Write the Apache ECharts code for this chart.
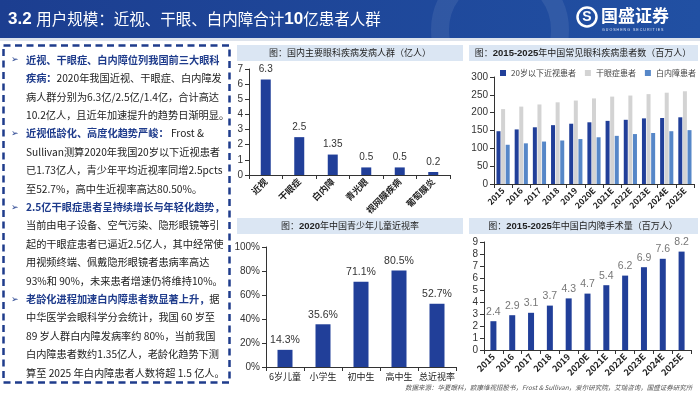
<!DOCTYPE html>
<html><head><meta charset="utf-8">
<script src="https://cdn.jsdelivr.net/npm/echarts@6/dist/echarts.min.js"></script>
<style>html,body{margin:0;padding:0;background:#fff}#c{width:700px;height:394px}</style>
</head><body><div id="c"></div>
<script>
// ---- data ----
const diseaseCats = ['近视','干眼症','白内障','青光眼','视网膜疾病','葡萄膜炎'];
const diseaseVals = [6.3, 2.5, 1.35, 0.5, 0.5, 0.2];
const years = ['2015','2016','2017','2018','2019','2020E','2021E','2022E','2023E','2024E','2025E'];
const myopiaU20 = [148,153,159,165,169,173,177,180,184,185,187];
const dryEye    = [210,217,223,229,234,240,245,248,252,256,260];
const cataract  = [110,114,119,122,126,131,135,140,143,148,151];
const youthCats = ['6岁儿童','小学生','初中生','高中生','总近视率'];
const youthRate = [14.3, 35.6, 71.1, 80.5, 52.7];
const surgery   = [2.4,2.9,3.1,3.7,4.3,4.7,5.4,6.2,6.9,7.6,8.2];
const seriesNames = ['20岁以下近视患者','干眼症患者','白内障患者'];

const NAVY = '#213f99', GRAY = '#d3d3d3', LBLUE = '#5687c8';
const CJK = '"Noto Sans CJK SC", sans-serif';
const NUM = '"Liberation Sans", "Noto Sans", sans-serif';

const chart = echarts.init(document.getElementById('c'), null, {renderer:'canvas'});

function yAx(gi, min, max, interval, fmt){
  return {type:'value', gridIndex:gi, min:min, max:max, interval:interval,
    axisLine:{show:true, lineStyle:{color:'#333', width:1}},
    axisTick:{show:true, length:4, lineStyle:{color:'#333'}},
    splitLine:{show:false},
    axisLabel:{color:'#333', fontSize:10, fontFamily:NUM, margin:6, formatter:fmt||'{value}'}};
}
function xAx(gi, data, rotate, fs, bold){
  return {type:'category', gridIndex:gi, data:data,
    axisLine:{show:true, lineStyle:{color:'#333', width:1}},
    axisTick:{show:true, length:4, alignWithLabel:false, lineStyle:{color:'#333'}},
    axisLabel:{interval:0, rotate:rotate, color:'#222', fontSize:fs, fontWeight:bold?'bold':'normal',
      fontFamily:CJK, margin:5}};
}

// ---- left text ----
const textLines = [
  [true,  '{b|近视、干眼症、白内障位列我国前三大眼科}'],
  [false, '{b|疾病：}{n|2020年我国近视、干眼症、白内障发}'],
  [false, '{n|病人群分别为6.3亿/2.5亿/1.4亿，合计高达}'],
  [false, '{n|10.2亿人，且近年加速提升的趋势日渐明显。}'],
  [true,  '{b|近视低龄化、高度化趋势严峻：}{n| Frost &}'],
  [false, '{n|Sullivan测算2020年我国20岁以下近视患者}'],
  [false, '{n|已1.73亿人，青少年平均近视率同增2.5pcts}'],
  [false, '{n|至52.7%，高中生近视率高达80.50%。}'],
  [true,  '{b|2.5亿干眼症患者呈持续增长与年轻化趋势，}'],
  [false, '{n|当前由电子设备、空气污染、隐形眼镜等引}'],
  [false, '{n|起的干眼症患者已逼近2.5亿人，其中经常使}'],
  [false, '{n|用视频终端、佩戴隐形眼镜者患病率高达}'],
  [false, '{n|93%和 90%，未来患者增速仍将维持10%。}'],
  [true,  '{b|老龄化进程加速白内障患者数显著上升，}{n|据}'],
  [false, '{n|中华医学会眼科学分会统计，我国 60 岁至}'],
  [false, '{n|89 岁人群白内障发病率约 80%，当前我国}'],
  [false, '{n|白内障患者数约1.35亿人，老龄化趋势下测}'],
  [false, '{n|算至 2025 年白内障患者人数将超 1.5 亿人。}']
];
const rich = {
  b:{fontSize:10.2, fontFamily:CJK, fontWeight:'bold', fill:'#1f3c8c'},
  n:{fontSize:10.2, fontFamily:CJK, fill:'#222'}
};
const graphics = [];
// header
graphics.push({type:'rect', shape:{x:0,y:0,width:700,height:38}, silent:true,
  style:{fill:new echarts.graphic.LinearGradient(0,0,1,0,[{offset:0,color:'#1c3e90'},{offset:1,color:'#2150a3'}])}});
graphics.push({type:'circle', shape:{cx:500,cy:30,r:60}, silent:true,
  style:{fill:'none', stroke:'rgba(255,255,255,0.08)', lineWidth:18}});
graphics.push({type:'rect', shape:{x:0,y:38,width:700,height:3}, silent:true, style:{fill:'#dde3ec'}});
graphics.push({type:'text', x:8, y:19, silent:true, style:{
  text:'{a|3.2 }{c|用户规模：近视、干眼、白内障合计}{a|10}{c|亿患者人群}',
  verticalAlign:'middle',
  rich:{a:{fontSize:17, fontWeight:'bold', fontFamily:NUM, fill:'#fff'},
        c:{fontSize:15.5, fontFamily:CJK, fill:'#fff'}}}});
// logo
graphics.push({type:'circle', shape:{cx:587,cy:17,r:9.5}, silent:true, style:{fill:'none', stroke:'#fff', lineWidth:2.5}});
graphics.push({type:'text', x:587, y:17.5, silent:true, style:{text:'S', fontSize:14, fontWeight:'bold', fontFamily:NUM, fill:'#fff', align:'center', verticalAlign:'middle'}});
graphics.push({type:'text', x:601, y:16, silent:true, style:{text:'国盛证券', fontSize:17, fontWeight:'bold', fontFamily:CJK, fill:'#fff', verticalAlign:'middle'}});
graphics.push({type:'text', x:602, y:30, silent:true, style:{text:'G U O S H E N G   S E C U R I T I E S', fontSize:3.6, fontFamily:NUM, fill:'#dfe6f5', verticalAlign:'middle'}});
// left dashed box
graphics.push({type:'rect', shape:{x:3.5,y:45.5,width:226,height:337}, silent:true,
  style:{fill:'none', stroke:'#1f3c8c', lineWidth:2.5, lineDash:[7,4.5]}});
textLines.forEach((ln, i) => {
  const y = 60 + i * 18.4;
  if (ln[0]) graphics.push({type:'text', x:11, y:y, silent:true, style:{text:'➢', fontSize:9, fontFamily:'"DejaVu Sans"', fill:'#1f3c8c', verticalAlign:'middle'}});
  graphics.push({type:'text', x:26, y:y, silent:true, style:{text:ln[1], rich:rich, verticalAlign:'middle'}});
});
// panel title bands
const bands = [
  [237, 45, 226, 16, 350, '{n|图：国内主要眼科疾病发病人群（亿人）}'],
  [469, 45, 229, 16, 583, '{n|图：}{b|2015-2025}{n|年中国常见眼科疾病患者数（百万人）}'],
  [237, 218, 226, 16, 350, '{n|图：}{b|2020}{n|年中国青少年儿童近视率}'],
  [469, 218, 229, 16, 583, '{n|图：}{b|2015-2025}{n|年中国白内障手术量（百万人）}']
];
bands.forEach(b => {
  graphics.push({type:'rect', shape:{x:b[0],y:b[1],width:b[2],height:b[3]}, silent:true, style:{fill:'#dbe6f3'}});
  graphics.push({type:'text', x:b[4], y:b[1]+b[3]/2, silent:true, style:{text:b[5], align:'center', verticalAlign:'middle',
    rich:{n:{fontSize:9, fontFamily:CJK, fill:'#222'}, b:{fontSize:9.5, fontFamily:NUM, fontWeight:'bold', fill:'#222'}}}});
});
// source
graphics.push({type:'text', x:405, y:388, silent:true, style:{
  text:'数据来源：华夏眼科，欧康维视招股书，Frost & Sullivan，爱尔研究院，艾瑞咨询，国盛证券研究所',
  fontSize:6.5, fontStyle:'italic', fontFamily:CJK, fill:'#555', verticalAlign:'middle'}});

const option = {
  animation:false,
  backgroundColor:'#fff',
  grid:[
    {left:249, top:69, width:201, height:106},
    {left:494, top:77, width:200, height:107},
    {left:266, top:247, width:190, height:120},
    {left:484, top:242, width:207, height:108}
  ],
  xAxis:[
    xAx(0, diseaseCats, 45, 9, true),
    xAx(1, years, 45, 8.5, true),
    xAx(2, youthCats, 0, 9, false),
    xAx(3, years, 45, 9, true)
  ],
  yAxis:[
    yAx(0, 0, 7, 1),
    yAx(1, 0, 300, 50),
    yAx(2, 0, 100, 20, '{value}%'),
    yAx(3, 0, 9, 1)
  ],
  legend:{
    data:seriesNames, left:500, top:69, width:200, itemWidth:6, itemHeight:6, itemGap:9, icon:'rect',
    textStyle:{fontSize:8, fontFamily:CJK, color:'#444'}, padding:0, orient:'horizontal'
  },
  series:[
    {type:'bar', xAxisIndex:0, yAxisIndex:0, data:diseaseVals, barWidth:10, itemStyle:{color:NAVY},
      label:{show:true, position:'top', color:'#333', fontSize:10, fontFamily:NUM, distance:5}},
    {type:'bar', name:seriesNames[0], xAxisIndex:1, yAxisIndex:1, data:myopiaU20, barWidth:4, barGap:'15%', itemStyle:{color:NAVY}},
    {type:'bar', name:seriesNames[1], xAxisIndex:1, yAxisIndex:1, data:dryEye, barWidth:4, barGap:'15%', itemStyle:{color:GRAY}},
    {type:'bar', name:seriesNames[2], xAxisIndex:1, yAxisIndex:1, data:cataract, barWidth:4, barGap:'15%', itemStyle:{color:LBLUE}},
    {type:'bar', xAxisIndex:2, yAxisIndex:2, data:youthRate, barWidth:15, itemStyle:{color:NAVY},
      label:{show:true, position:'top', color:'#333', fontSize:10.5, fontFamily:NUM, distance:4, formatter:'{c}%'}},
    {type:'bar', xAxisIndex:3, yAxisIndex:3, data:surgery, barWidth:6, itemStyle:{color:NAVY},
      label:{show:true, position:'top', color:'#777', fontSize:10.5, fontFamily:NUM, distance:4}}
  ],
  graphic:graphics
};
chart.setOption(option);
</script></body></html>
